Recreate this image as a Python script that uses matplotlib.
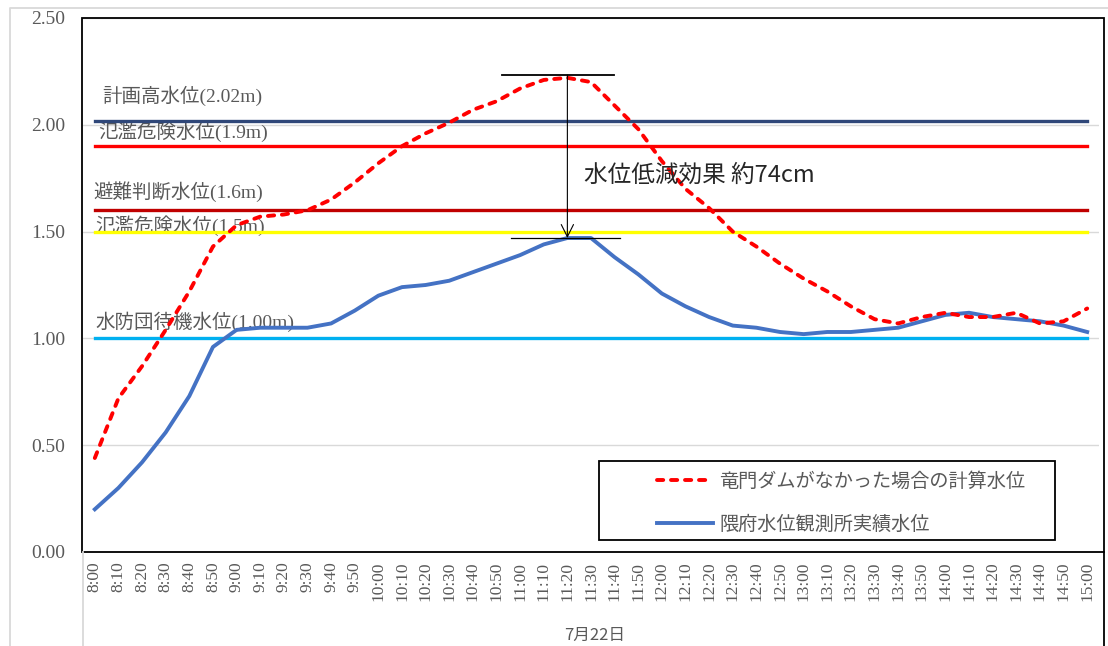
import matplotlib
matplotlib.use('Agg')
import matplotlib.pyplot as plt
from matplotlib.patches import Rectangle
from matplotlib.lines import Line2D
import numpy as np

# 時刻（7月22日 8:00〜15:00、10分毎）
times = ['8:00', '8:10', '8:20', '8:30', '8:40', '8:50',
         '9:00', '9:10', '9:20', '9:30', '9:40', '9:50',
         '10:00', '10:10', '10:20', '10:30', '10:40', '10:50',
         '11:00', '11:10', '11:20', '11:30', '11:40', '11:50',
         '12:00', '12:10', '12:20', '12:30', '12:40', '12:50',
         '13:00', '13:10', '13:20', '13:30', '13:40', '13:50',
         '14:00', '14:10', '14:20', '14:30', '14:40', '14:50', '15:00']

# 竜門ダムがなかった場合の計算水位 (m)
calc_level = [0.44, 0.72, 0.87, 1.04, 1.22, 1.43,
              1.53, 1.57, 1.58, 1.60, 1.65, 1.73,
              1.82, 1.90, 1.96, 2.01, 2.07, 2.11,
              2.17, 2.21, 2.22, 2.20, 2.09, 1.98,
              1.83, 1.70, 1.61, 1.50, 1.43, 1.35,
              1.28, 1.22, 1.15, 1.09, 1.07, 1.10,
              1.12, 1.10, 1.10, 1.12, 1.07, 1.08, 1.14]

# 隈府水位観測所実績水位 (m)
actual_level = [0.20, 0.30, 0.42, 0.56, 0.73, 0.96,
                1.04, 1.05, 1.05, 1.05, 1.07, 1.13,
                1.20, 1.24, 1.25, 1.27, 1.31, 1.35,
                1.39, 1.44, 1.47, 1.47, 1.38, 1.30,
                1.21, 1.15, 1.10, 1.06, 1.05, 1.03,
                1.02, 1.03, 1.03, 1.04, 1.05, 1.08,
                1.11, 1.12, 1.10, 1.09, 1.08, 1.06, 1.03]

# 基準水位
ref_names = ['計画高水位(2.02m)', '氾濫危険水位(1.9m)', '避難判断水位(1.6m)',
             '氾濫危険水位(1.5m)', '水防団待機水位(1.00m)']
ref_values = [2.02, 1.90, 1.60, 1.50, 1.00]
ref_colors = ['#2F4779', '#FF0000', '#C00000', '#FFFF00', '#00B0F0']

W, H = 1108, 646
gray = '#595959'
serif_cjk = ['Liberation Serif', 'Noto Sans CJK JP']
sans_cjk = ['Noto Sans CJK JP', 'DejaVu Sans']

fig = plt.figure(figsize=(W / 100, H / 100), dpi=100)
ax = fig.add_axes([83 / W, (H - 552) / H, 1016 / W, 534 / H])

x = np.arange(len(times))
ax.set_xlim(-0.5, len(times) - 0.5)
ax.set_ylim(0, 2.5)

# 基準水位の横線
for v, c in zip(ref_values, ref_colors):
    ax.plot(x, [v] * len(x), color=c, lw=2.4, zorder=3)

# 基準水位ラベル
label_pos = [(0.3, 2.136), (0.13, 1.966), (-0.08, 1.685), (0.04, 1.526), (0.04, 1.077)]
for name, (lx, ly) in zip(ref_names, label_pos):
    ax.text(lx, ly, name, family=serif_cjk, fontsize=14, color=gray,
            ha='left', va='center', zorder=2)

# 水位
ax.plot(x, actual_level, color='#4472C4', lw=2.8, zorder=5)
ax.plot(x, calc_level, color='#FF0000', lw=2.8, dashes=(1.6, 2.0),
        dash_capstyle='round', zorder=6)

# 水位低減効果の矢印
peak = int(np.argmax(calc_level))
top = calc_level[peak] + 0.013
bottom = actual_level[peak]
ax.plot([peak - 2.77, peak + 1.97], [top, top], color='black', lw=1.3, zorder=7)
ax.plot([peak - 2.39, peak + 2.23], [bottom, bottom], color='black', lw=0.9, zorder=7)
ax.annotate('', xy=(peak, bottom), xytext=(peak, top),
            arrowprops=dict(arrowstyle='->', color='black', lw=0.8,
                            mutation_scale=22, shrinkA=0, shrinkB=0), zorder=7)
ax.text(peak + 0.72, 1.766, '水位低減効果 約74cm', family=sans_cjk, fontsize=17,
        color='#262626', ha='left', va='center', zorder=8)

# 軸・目盛
ax.set_yticks([0, 0.5, 1.0, 1.5, 2.0, 2.5])
ax.set_yticklabels(['%.2f' % t for t in [0, 0.5, 1.0, 1.5, 2.0, 2.5]])
ax.set_xticks(x)
ax.set_xticklabels(times, rotation=90)
ax.tick_params(axis='y', length=0, pad=13, labelsize=14, labelcolor=gray)
ax.tick_params(axis='x', length=0, pad=7, labelsize=12.5, labelcolor=gray)
for lab in ax.get_xticklabels() + ax.get_yticklabels():
    lab.set_family(serif_cjk)
ax.grid(axis='y', color='#D9D9D9', lw=1)
ax.set_axisbelow(True)
for s in ['top', 'right', 'left']:
    ax.spines[s].set_visible(False)
ax.spines['bottom'].set_color('#D9D9D9')
ax.spines['bottom'].set_linewidth(1.3)

# 凡例
ax.add_patch(Rectangle((0.508, 0.0225), 0.449, 0.148, transform=ax.transAxes,
                       fc='white', ec='black', lw=1.3, zorder=9))
handles = [Line2D([], [], color='#FF0000', lw=2.8, dashes=(1.6, 2.0), dash_capstyle='round'),
           Line2D([], [], color='#4472C4', lw=2.8)]
leg = ax.legend(handles, ['竜門ダムがなかった場合の計算水位', '隈府水位観測所実績水位'],
                loc='upper left', bbox_to_anchor=(0.565, 0.152), frameon=False,
                borderpad=0, borderaxespad=0, handlelength=2.9, handletextpad=0.35,
                labelspacing=1.13, prop={'family': sans_cjk, 'size': 13.8})
leg.set_zorder(10)
for t in leg.get_texts():
    t.set_color(gray)

# 枠線
fig.add_artist(Rectangle((82 / W, (H - 552) / H), 1022 / W, 534 / H,
                         transform=fig.transFigure, fill=False, ec='black', lw=1.3))
fig.add_artist(Line2D([1104 / W, 1104 / W], [0, (H - 552) / H],
                      transform=fig.transFigure, color='black', lw=1.3))
fig.add_artist(Line2D([83 / W, 83 / W], [0, (H - 552) / H],
                      transform=fig.transFigure, color='#D9D9D9', lw=1.3))
fig.add_artist(Line2D([10 / W, 10 / W, 1], [0, (H - 8) / H, (H - 8) / H],
                      transform=fig.transFigure, color='#D9D9D9', lw=1.3))

fig.text(595 / W, (H - 635) / H, '7月22日', family=sans_cjk, fontsize=12,
         color=gray, ha='center', va='center')

fig.savefig('out.png', dpi=100)
